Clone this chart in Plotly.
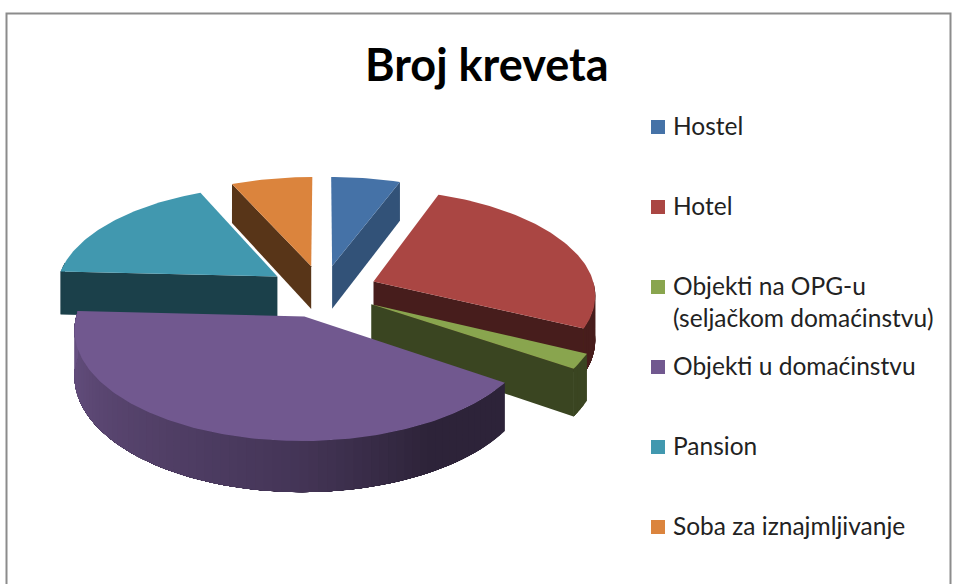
import math
import plotly.graph_objects as go

categories = ["Hostel", "Hotel", "Objekti na OPG-u<br>(seljačkom domaćinstvu)",
              "Objekti u domaćinstvu", "Pansion", "Soba za iznajmljivanje"]
values = [5.7, 26.5, 2.3, 41.3, 17.5, 6.7]
colors = ["#4572A7", "#AA4643", "#89A54E", "#71588F", "#4198AF", "#DB843D"]
face_shade = [0.72, 0.42, 0.42, 0.42, 0.42, 0.40]
title_text = "Broj kreveta"

# projection of the tilted pie
CX, CY, A, B, K, H, EXPLODE = 322.5, 291, 222, 104.4, 0.1125, 44, 0.25
FONT = "Lato, Carlito, sans-serif"


def proj(x, y, z=0.0):
    w = 1 + K * y
    return CX + A * x / w, CY - B * y / w + z / w


def shade(hex_color, f):
    r, g, b = (int(hex_color[i:i + 2], 16) for i in (1, 3, 5))
    return f"rgb({r * f:.0f},{g * f:.0f},{b * f:.0f})"


def wall_shade(i, deg):
    if i != 3:
        return .42
    stops = [(0, .40), (150, .40), (180, .6), (275, .93), (360, .93)]
    for (a0, s0), (a1, s1) in zip(stops, stops[1:]):
        if a0 <= deg <= a1:
            return s0 + (s1 - s0) * (deg - a0) / (a1 - a0)
    return .42


def poly(fig, pts, color):
    fig.add_trace(go.Scatter(
        x=[p[0] for p in pts] + [pts[0][0]], y=[p[1] for p in pts] + [pts[0][1]],
        mode="lines", fill="toself", fillcolor=color,
        line=dict(color=color, width=0), hoverinfo="skip", showlegend=False))


total = sum(values)
slices = []
start = 0.0
for i, v in enumerate(values):
    end = start + 360 * v / total
    slices.append((i, start, end))
    start = end

fig = go.Figure()


def bis_y(s):
    return math.cos(math.radians((s[1] + s[2]) / 2))


for i, a0, a1 in sorted(slices, key=bis_y, reverse=True):
    col = colors[i]
    mid = math.radians((a0 + a1) / 2)
    ox, oy = EXPLODE * math.sin(mid), EXPLODE * math.cos(mid)

    def rim(deg):
        t = math.radians(deg)
        return ox + math.sin(t), oy + math.cos(t)

    apex = proj(ox, oy)
    apex_b = proj(ox, oy, H)
    # radial faces: only those turned towards the viewer
    visible = []
    if math.sin(math.radians(a0)) < -1e-6:
        visible.append(a0)
    if math.sin(math.radians(a1)) > 1e-6:
        visible.append(a1)
    for deg in visible:
        x, y = rim(deg)
        poly(fig, [apex, proj(x, y), proj(x, y, H), apex_b], shade(col, face_shade[i]))
    # outer wall: only the front-facing part, as overlapping strips so no seams show
    f0, f1 = max(a0, 90), min(a1, 278)
    if f1 > f0:
        n = max(1, int((f1 - f0) / 2))
        step = (f1 - f0) / n
        for k in range(n):
            d0 = f0 + step * k
            seg = max(2, int((f1 - d0) / 2) + 2)
            degs = [d0 + (f1 - d0) * j / (seg - 1) for j in range(seg)]
            pts = [proj(*rim(d)) for d in degs]
            pts += [proj(*rim(d), H) for d in reversed(degs)]
            poly(fig, pts, shade(col, wall_shade(i, d0 + step / 2)))
    top = [apex]
    m = max(4, int(a1 - a0))
    for k in range(m + 1):
        top.append(proj(*rim(a0 + (a1 - a0) * k / m)))
    poly(fig, top, col)

# legend
LEG_X, LEG_Y0, LEG_DY = 658, 127, 80
leg_y = [LEG_Y0 + LEG_DY * i for i in range(len(categories))]
fig.add_trace(go.Scatter(
    x=[LEG_X] * len(categories), y=leg_y, mode="markers",
    marker=dict(symbol="square", size=14, color=colors, line=dict(width=0)),
    hovertext=categories, hoverinfo="text", showlegend=False))
annotations = [dict(x=LEG_X + 13, y=yy - 18, xref="x", yref="y", xanchor="left", yanchor="top",
                    text=c, showarrow=False, align="left",
                    font=dict(family=FONT, size=24.5, color="#222222"))
               for c, yy in zip(categories, leg_y)]
annotations.append(dict(x=487, y=64, xref="x", yref="y", xanchor="center", yanchor="middle",
                        text=f"<b>{title_text}</b>", showarrow=False,
                        font=dict(family=FONT, size=45, color="#000000")))

fig.update_layout(
    width=956, height=584, margin=dict(l=0, r=0, t=0, b=0),
    paper_bgcolor="white", plot_bgcolor="white", showlegend=False,
    xaxis=dict(range=[0, 956], visible=False, fixedrange=True),
    yaxis=dict(range=[584, 0], visible=False, fixedrange=True),
    annotations=annotations,
    shapes=[dict(type="path", xref="x", yref="y", path="M6.5,584 L6.5,13.5 L950.5,13.5 L950.5,584",
                 line=dict(color="#8C8C8C", width=2))],
)
fig.write_html("out.html", config={"displayModeBar": False},
               post_script="document.body.style.margin='0';")
